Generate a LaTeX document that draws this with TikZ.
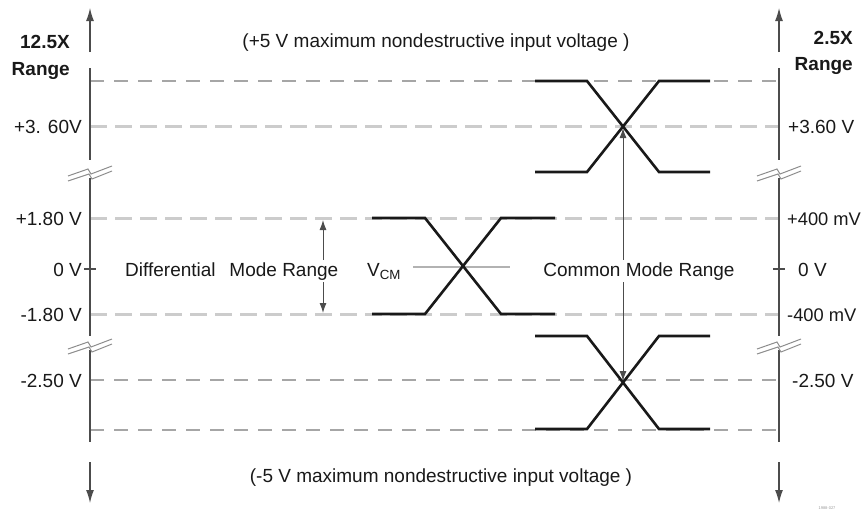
\documentclass[tikz,border=0pt]{standalone}
\usepackage{fontspec}
\setmainfont{Liberation Sans}
\usetikzlibrary{arrows.meta}
\begin{document}
\begin{tikzpicture}[x=1pt,y=-1pt,
  lbl/.style={font=\fontsize{19}{22}\selectfont, inner sep=0pt, text=black!90},
  boldlbl/.style={font=\fontsize{19}{22}\selectfont\bfseries, inner sep=0pt, text=black!90},
  axisline/.style={line width=1.2pt, black!70},
  tipup/.style={-{Latex[length=13pt,width=8pt]}},
  thickdash/.style={line width=3pt, black!20, dash pattern=on 17pt off 8pt},
  thindash/.style={line width=1.3pt, black!35, dash pattern=on 14pt off 10pt},
  sig/.style={line width=2.6pt, black!90, line join=miter},
  brk/.style={line width=1pt, black!45},
  thinarrow/.style={line width=1pt, black!70, {Latex[length=10pt,width=7pt]}-{Latex[length=10pt,width=7pt]}}
]
\useasboundingbox (0,0) rectangle (864,514);

% horizontal reference lines
\draw[thindash]  (90,81)  -- (779,81);
\draw[thickdash] (90,126) -- (779,126);
\draw[thickdash] (90,218) -- (779,218);
\draw[thickdash] (90,314) -- (779,314);
\draw[thindash]  (90,380) -- (779,380);
\draw[thindash]  (90,430) -- (779,430);

% axes
\foreach \ax in {90,779}{
  \draw[axisline,tipup] (\ax,52) -- (\ax,8);
  \draw[axisline] (\ax,68) -- (\ax,160);
  \draw[axisline] (\ax,178) -- (\ax,336);
  \draw[axisline] (\ax,350) -- (\ax,442);
  \draw[axisline,tipup] (\ax,462) -- (\ax,503);
  \draw[axisline] (\ax-6,269) -- (\ax+6,269);
  \foreach \by in {170,343}{
    \draw[brk, shift={(\ax,\by)}] (-22,6) -- (-2,-1) -- (1,4) -- (22,-4);
    \draw[brk, shift={(\ax,\by)}] (-22,11) -- (-1,4) -- (2,9) -- (22,1);
  }
}

% V_CM reference
\draw[line width=1.5pt, black!30] (413,267) -- (510,267);

% differential crossing
\draw[sig] (372,218) -- (425,218) -- (501,314) -- (555,314);
\draw[sig] (372,314) -- (425,314) -- (501,218) -- (555,218);

% common mode crossings
\draw[sig] (535,81) -- (587,81) -- (659,172) -- (710,172);
\draw[sig] (535,172) -- (587,172) -- (659,81) -- (710,81);
\draw[sig] (535,336) -- (587,336) -- (659,429) -- (710,429);
\draw[sig] (535,429) -- (587,429) -- (659,336) -- (710,336);

% range arrows
\coordinate (dmtop) at (323,220);
\coordinate (dmbot) at (323,313);
\coordinate (cmtop) at (623,128);
\coordinate (cmbot) at (623,381);
\draw[thinarrow] (dmtop) -- (dmbot);
\draw[thinarrow] (cmtop) -- (cmbot);

\node[lbl, anchor=base west, fill=white, inner ysep=2pt] (dmr) at (125,276) {Differential\hspace{0.45em} Mode Range};
\node[lbl, anchor=base, fill=white, inner ysep=2pt] (cmr) at (639,276) {Common Mode Range};
\node[lbl, anchor=base west] (vcm) at (367,276) {V\textsubscript{CM}};

% top / bottom texts
\node[lbl, anchor=base] (toptxt) at (436,47) {(+5 V maximum nondestructive input voltage )};
\node[lbl, anchor=base] (bottxt) at (441,482) {(-5 V maximum nondestructive input voltage )};

% left labels
\node[boldlbl, anchor=base east] (lx) at (70,48) {12.5X};
\node[boldlbl, anchor=base east] (lr) at (70,75) {Range};
\node[lbl, anchor=base east] (l1) at (82,133) {+3. 60V};
\node[lbl, anchor=base east] (l2) at (82,225) {+1.80 V};
\node[lbl, anchor=base east] (l3) at (82,276) {0 V};
\node[lbl, anchor=base east] (l4) at (82,321) {-1.80 V};
\node[lbl, anchor=base east] (l5) at (82,387) {-2.50 V};

% right labels
\node[boldlbl, anchor=base east] (rx) at (853,44) {2.5X};
\node[boldlbl, anchor=base east] (rr) at (853,70) {Range};
\node[lbl, anchor=base west] (r1) at (788,133) {+3.60 V};
\node[lbl, anchor=base west, font=\fontsize{18.3}{22}\selectfont] (r2) at (787,225) {+400 mV};
\node[lbl, anchor=base west] (r3) at (798,276) {0 V};
\node[lbl, anchor=base west, font=\fontsize{18.3}{22}\selectfont] (r4) at (787,321) {-400 mV};
\node[lbl, anchor=base west] (r5) at (792,387) {-2.50 V};

\node[font=\fontsize{4}{5}\selectfont, text=black!40, inner sep=0pt] (code) at (827,508) {1988-027};
\end{tikzpicture}
\end{document}
